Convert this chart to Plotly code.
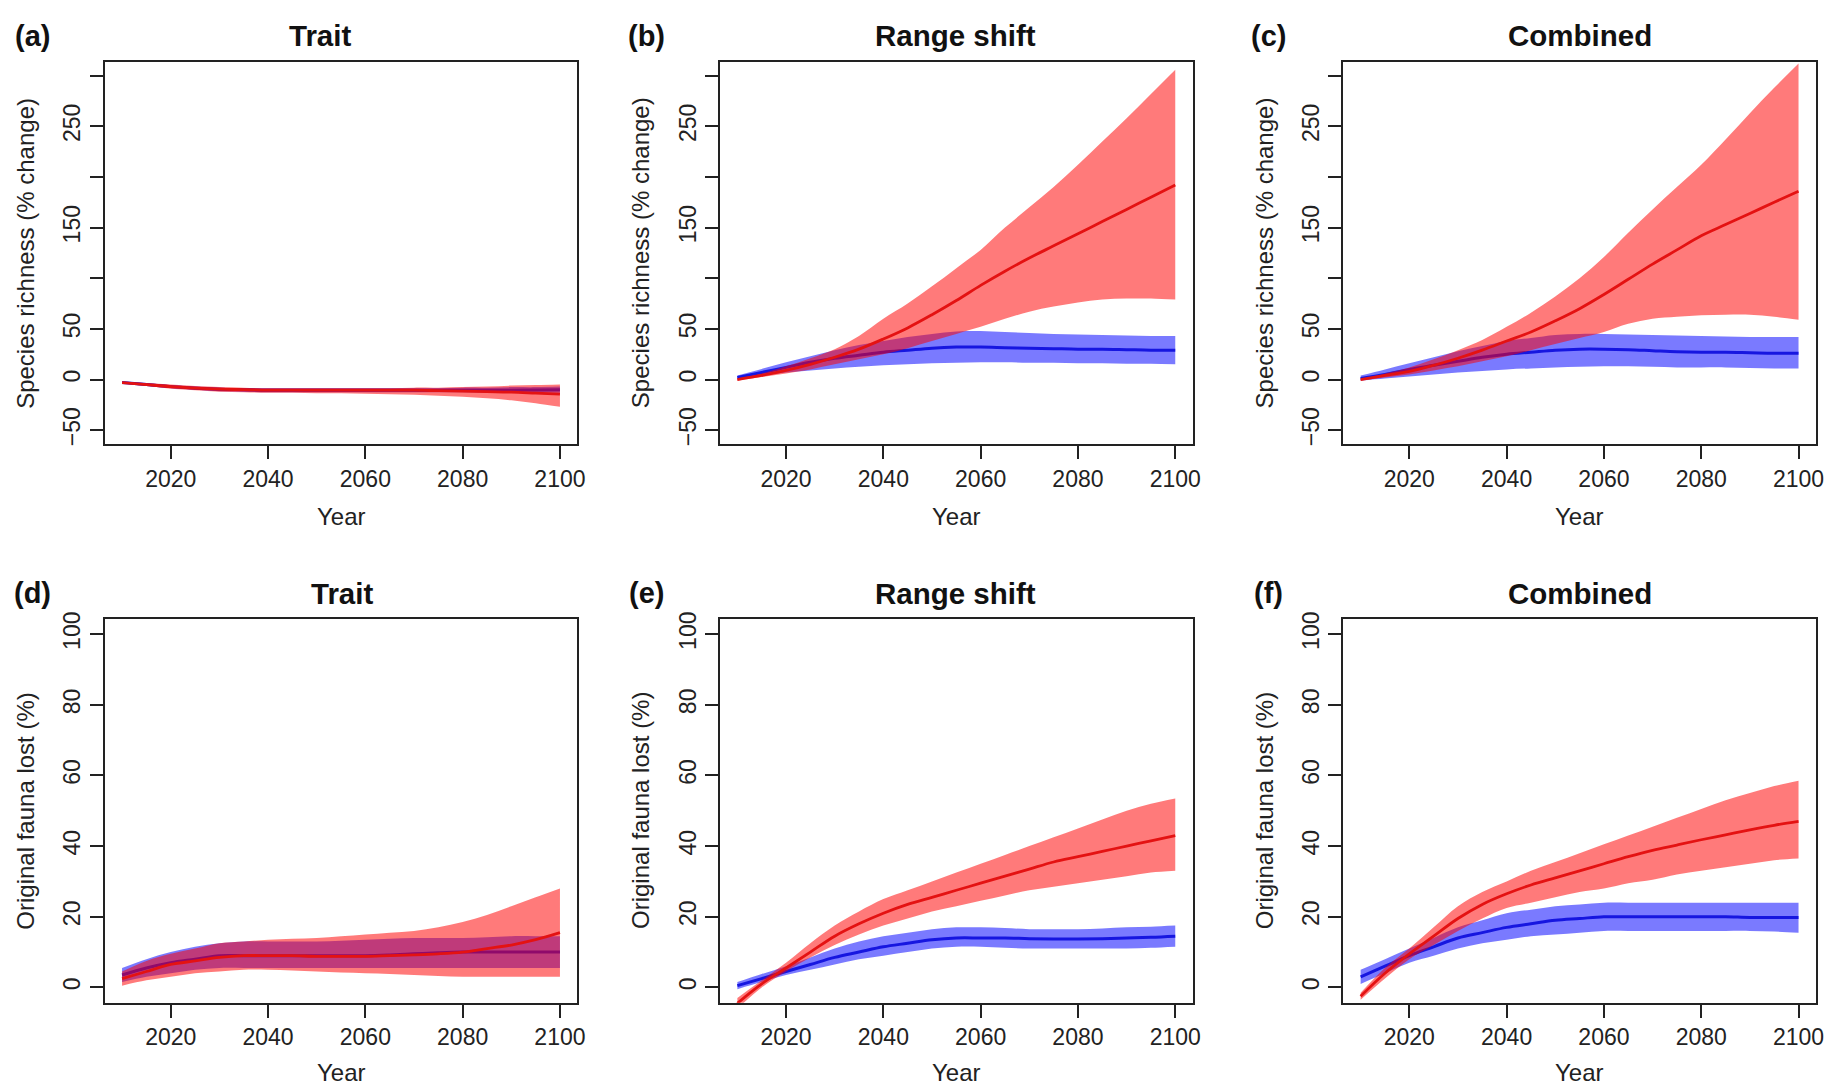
import plotly.graph_objects as go

W, H = 1836, 1086

YEARS = [2010, 2015, 2020, 2025, 2030, 2035, 2040, 2045, 2050, 2055,
         2060, 2065, 2070, 2075, 2080, 2085, 2090, 2095, 2100]

# (a) Trait - species richness
a_red_mean = [-3, -5, -7, -8.5, -9.5, -10, -10.5, -10.5, -10.5, -10.5, -10.5, -10.5, -10.5, -11, -11.5, -12, -12.5, -13.5, -14.5]
a_red_lo = [-4, -6.5, -9, -10.5, -12, -12.5, -13, -13, -13.5, -13.5, -14, -14.5, -15, -16, -17, -18.5, -20.5, -23.5, -27]
a_red_hi = [-2, -3.5, -5, -6.5, -7.5, -8, -8.5, -8.5, -8.5, -8.5, -8.5, -8.5, -8, -8, -7.5, -7, -6, -5.5, -5]
a_blue_mean = [-3, -5, -7, -8.5, -9.5, -10, -10.5, -10.5, -10.5, -10.5, -10.5, -10.5, -10.5, -10.5, -10.5, -10.5, -10.5, -10.3, -10]
a_blue_lo = [-4, -6.5, -8.5, -10, -11.5, -12, -12.5, -12.5, -12.5, -12.5, -12.5, -12.5, -12.5, -12.5, -12.5, -13, -13, -13, -13]
a_blue_hi = [-2, -3.5, -5.5, -7, -8, -8.5, -8.5, -8.5, -8.5, -8.5, -8.5, -8.5, -8.5, -8.5, -8, -8, -7.5, -7.5, -7]

# (b) Range shift - species richness
b_red_mean = [0, 4, 9, 15, 22, 30, 40, 51, 64, 78, 93, 107, 120, 132, 144, 156, 168, 180, 192]
b_red_lo = [-1, 2.5, 6, 10, 15, 20, 25, 31, 38, 45, 52, 60, 67, 72, 76, 79, 80, 80, 79]
b_red_hi = [1, 6, 13, 21, 30, 43, 60, 75, 92, 110, 128, 150, 170, 190, 212, 235, 258, 282, 306]
b_blue_mean = [2, 7, 12, 17, 21, 24, 27, 29, 31, 32, 32, 31.5, 31, 30.5, 30, 30, 29.5, 29, 29]
b_blue_lo = [0, 4, 7, 9, 11, 12.5, 14, 15, 16, 16.5, 17, 17, 16.5, 16.5, 16, 16, 15.5, 15.5, 15]
b_blue_hi = [4, 10.5, 17, 23, 29, 34, 38, 42, 45, 47.5, 48, 47, 46, 45, 44.5, 44, 43.5, 43, 43]

# (c) Combined - species richness
c_red_mean = [0, 4, 8, 14, 21, 29, 38, 47, 58, 70, 84, 99, 114, 128, 142, 153, 164, 175, 186]
c_red_lo = [-1, 2, 5, 9, 13, 18, 23, 29, 35, 41, 47, 55, 60, 62, 63.5, 64, 64, 62, 59]
c_red_hi = [0, 6, 12, 20, 29, 39, 52, 66, 82, 100, 121, 145, 168, 190, 212, 237, 263, 288, 312]
c_blue_mean = [1, 5, 10, 14, 18, 22, 25, 27, 29, 30, 30, 29.5, 28.5, 27.5, 27, 27, 26.5, 26, 26]
c_blue_lo = [-1, 1, 3, 5, 7, 8.5, 10, 11, 12, 12.5, 13, 13, 12.5, 12, 12, 12, 11.5, 11, 11]
c_blue_hi = [4, 10, 16, 22, 28, 33, 38, 41, 44, 45, 45, 44.5, 44, 43.5, 43, 42.5, 42, 42, 42]

# (d) Trait - original fauna lost
d_red_mean = [2.5, 4.5, 6.5, 7.5, 8.5, 9, 9, 9, 8.8, 8.8, 8.8, 9, 9.2, 9.5, 10, 11, 12, 13.5, 15.5]
d_red_lo = [0.5, 2, 3, 4, 4.5, 5, 5, 4.8, 4.5, 4.2, 4, 3.8, 3.5, 3.2, 3, 3, 3, 3, 3]
d_red_hi = [4.5, 7.5, 9.5, 11, 12.5, 13, 13.5, 13.8, 14, 14.5, 15, 15.5, 16, 17, 18.5, 20.5, 23, 25.5, 28]
d_blue_mean = [3.5, 5.5, 7, 8, 9, 9, 9, 9, 9, 9, 9, 9.2, 9.5, 9.8, 10, 10, 10, 10, 10]
d_blue_lo = [1.5, 3, 4, 5, 5.5, 5.5, 5.5, 5.5, 5.5, 5.5, 5.5, 5.5, 5.5, 5.5, 5.5, 5.5, 5.5, 5.5, 5.5]
d_blue_hi = [5.5, 8, 10, 11.5, 12.5, 13, 13, 13, 13, 13.2, 13.5, 13.8, 14, 14, 14, 14.2, 14.5, 14.5, 14.5]

# (e) Range shift - original fauna lost
e_red_mean = [-4.5, 1, 5.5, 10, 14.5, 18, 21, 23.5, 25.5, 27.5, 29.5, 31.5, 33.5, 35.5, 37, 38.5, 40, 41.5, 43]
e_red_lo = [-6, 0, 4.5, 8.5, 12, 15, 17.5, 19.5, 21.5, 23, 24.5, 26, 27.5, 28.5, 29.5, 30.5, 31.5, 32.5, 33]
e_red_hi = [-3, 2, 7, 12.5, 17.5, 21.5, 25, 27.5, 30, 32.5, 35, 37.5, 40, 42.5, 45, 47.5, 50, 52, 53.5]
e_blue_mean = [0.5, 2.5, 4.5, 6.5, 8.5, 10, 11.5, 12.5, 13.5, 14, 14, 14, 13.8, 13.7, 13.7, 13.8, 14, 14.2, 14.5]
e_blue_lo = [-0.5, 1.5, 3.5, 5, 6.5, 8, 9, 10, 11, 11.5, 11.5, 11.2, 11, 11, 11, 11, 11, 11.2, 11.5]
e_blue_hi = [1.5, 3.8, 6, 8.5, 11, 13, 14.5, 15.5, 16.5, 17, 17, 16.8, 16.5, 16.5, 16.5, 16.7, 17, 17.2, 17.5]

# (f) Combined - original fauna lost
f_red_mean = [-2.5, 4, 9.5, 14.5, 19.5, 23.5, 26.5, 29, 31, 33, 35, 37, 38.8, 40.3, 41.8, 43.2, 44.6, 45.9, 47]
f_red_lo = [-3.5, 2.5, 8, 12, 16, 19.5, 22.5, 24, 25.5, 27, 28, 29.5, 30.5, 32, 33, 34, 35, 36, 36.5]
f_red_hi = [-1.5, 5.5, 11, 17, 23, 27, 30, 33, 35.5, 38, 40.5, 43, 45.5, 48, 50.5, 53, 55, 57, 58.5]
f_blue_mean = [3, 6, 9, 11.5, 14, 15.5, 17, 18, 19, 19.5, 20, 20, 20, 20, 20, 20, 19.8, 19.8, 19.8]
f_blue_lo = [1, 4, 7, 9, 11, 12.5, 13.5, 14.5, 15, 15.5, 16, 16, 16, 16, 16, 16, 16, 15.8, 15.5]
f_blue_hi = [5, 8, 11, 14, 17, 19, 21, 22, 23, 23.5, 24, 24, 24, 24, 24, 24, 24, 24, 24]

PANEL_LABELS = ["(a)", "(b)", "(c)", "(d)", "(e)", "(f)"]
PANEL_TITLES = ["Trait", "Range shift", "Combined", "Trait", "Range shift", "Combined"]
X_TICKS = [2020, 2040, 2060, 2080, 2100]
TOP_Y_TICKS = [-50, 0, 50, 100, 150, 200, 250, 300]
TOP_Y_TEXT = ["\u221250", "0", "50", "", "150", "", "250", ""]
BOT_Y_TICKS = [0, 20, 40, 60, 80, 100]
BOT_Y_TEXT = ["0", "20", "40", "60", "80", "100"]
TOP_Y_TITLE = "Species richness (% change)"
BOT_Y_TITLE = "Original fauna lost (%)"
X_TITLE = "Year"

panels = [
    (a_red_mean, a_red_lo, a_red_hi, a_blue_mean, a_blue_lo, a_blue_hi),
    (b_red_mean, b_red_lo, b_red_hi, b_blue_mean, b_blue_lo, b_blue_hi),
    (c_red_mean, c_red_lo, c_red_hi, c_blue_mean, c_blue_lo, c_blue_hi),
    (d_red_mean, d_red_lo, d_red_hi, d_blue_mean, d_blue_lo, d_blue_hi),
    (e_red_mean, e_red_lo, e_red_hi, e_blue_mean, e_blue_lo, e_blue_hi),
    (f_red_mean, f_red_lo, f_red_hi, f_blue_mean, f_blue_lo, f_blue_hi),
]

# layout in pixels
COL_X = [(105, 580), (723, 1198), (1349, 1824)]
ROW_Y = [(55, 441), (617, 1004)]
LABEL_X = [33, 649, 1274]
TITLE_X = [[321, 960, 1587], [343, 960, 1587]]
TITLE_Y = [29, 591]
XTITLE_Y = [514, 1074]

FONT = "Liberation Sans, Arial, Helvetica, sans-serif"
RED_FILL = "rgba(255,0,0,0.52)"
BLUE_FILL = "rgba(0,0,255,0.52)"
RED_LINE = "#E41212"
BLUE_LINE = "#1616E0"
AXC = "#222222"

fig = go.Figure()
annotations = []
layout = {}

def px(x):
    return x / W

def py(y):
    return 1 - y / H

for i, (rm, rlo, rhi, bm, blo, bhi) in enumerate(panels):
    row, col = divmod(i, 3)
    n = i + 1
    xa = "x" if n == 1 else f"x{n}"
    ya = "y" if n == 1 else f"y{n}"
    common = dict(x=YEARS, xaxis=xa, yaxis=ya, mode="lines", showlegend=False,
                  hoverinfo="skip")
    fig.add_trace(go.Scatter(y=blo, line=dict(width=0, shape="spline", color=BLUE_FILL), **common))
    fig.add_trace(go.Scatter(y=bhi, fill="tonexty", fillcolor=BLUE_FILL,
                             line=dict(width=0, shape="spline", color=BLUE_FILL), **common))
    fig.add_trace(go.Scatter(y=bm, line=dict(width=3, shape="spline", color=BLUE_LINE), **common))
    fig.add_trace(go.Scatter(y=rlo, line=dict(width=0, shape="spline", color=RED_FILL), **common))
    fig.add_trace(go.Scatter(y=rhi, fill="tonexty", fillcolor=RED_FILL,
                             line=dict(width=0, shape="spline", color=RED_FILL), **common))
    fig.add_trace(go.Scatter(y=rm, line=dict(width=2.8, shape="spline", color=RED_LINE), **common))

    x0, x1 = COL_X[col]
    y0, y1 = ROW_Y[row]
    axis_common = dict(showline=True, mirror=True, linecolor=AXC, linewidth=2,
                       ticks="outside", ticklen=13, tickwidth=2, tickcolor=AXC,
                       showgrid=False, zeroline=False,
                       tickfont=dict(family=FONT, size=23, color=AXC))
    layout["xaxis" if n == 1 else f"xaxis{n}"] = dict(
        domain=[px(x0), px(x1)], anchor=ya, range=[2006.4, 2103.6],
        tickvals=X_TICKS, ticktext=[str(t) for t in X_TICKS], **axis_common)
    if row == 0:
        yt, ytt, yr = TOP_Y_TICKS, TOP_Y_TEXT, [-64, 314]
    else:
        yt, ytt, yr = BOT_Y_TICKS, BOT_Y_TEXT, [-4.32, 104.32]
    layout["yaxis" if n == 1 else f"yaxis{n}"] = dict(
        domain=[py(y1), py(y0)], anchor=xa, range=yr,
        tickvals=yt, ticktext=ytt, tickangle=-90, **axis_common)

    # panel label
    annotations.append(dict(text="<b>" + PANEL_LABELS[i] + "</b>", x=px(LABEL_X[col]), y=py(TITLE_Y[row]),
                            xref="paper", yref="paper", showarrow=False,
                            xanchor="center", yanchor="middle",
                            font=dict(family=FONT, size=29, color="#111111")))
    # title
    annotations.append(dict(text="<b>" + PANEL_TITLES[i] + "</b>", x=px(TITLE_X[row][col]), y=py(TITLE_Y[row]),
                            xref="paper", yref="paper", showarrow=False,
                            xanchor="center", yanchor="middle",
                            font=dict(family=FONT, size=29.5, color="#111111")))
    # x title
    annotations.append(dict(text=X_TITLE, x=px((x0 + x1) / 2), y=py(XTITLE_Y[row]),
                            xref="paper", yref="paper", showarrow=False,
                            xanchor="center", yanchor="middle",
                            font=dict(family=FONT, size=24, color=AXC)))
    # y title
    annotations.append(dict(text=TOP_Y_TITLE if row == 0 else BOT_Y_TITLE,
                            x=px(x0 - 79), y=py((y0 + y1) / 2),
                            xref="paper", yref="paper", showarrow=False, textangle=-90,
                            xanchor="center", yanchor="middle",
                            font=dict(family=FONT, size=24, color=AXC)))

fig.update_layout(width=W, height=H, margin=dict(l=0, r=0, t=0, b=0),
                  paper_bgcolor="white", plot_bgcolor="white",
                  annotations=annotations, **layout)

fig.write_html("out.html",
               config={"displayModeBar": False},
               post_script="document.body.style.margin='0px';document.body.style.padding='0px';document.body.style.overflow='hidden';")
